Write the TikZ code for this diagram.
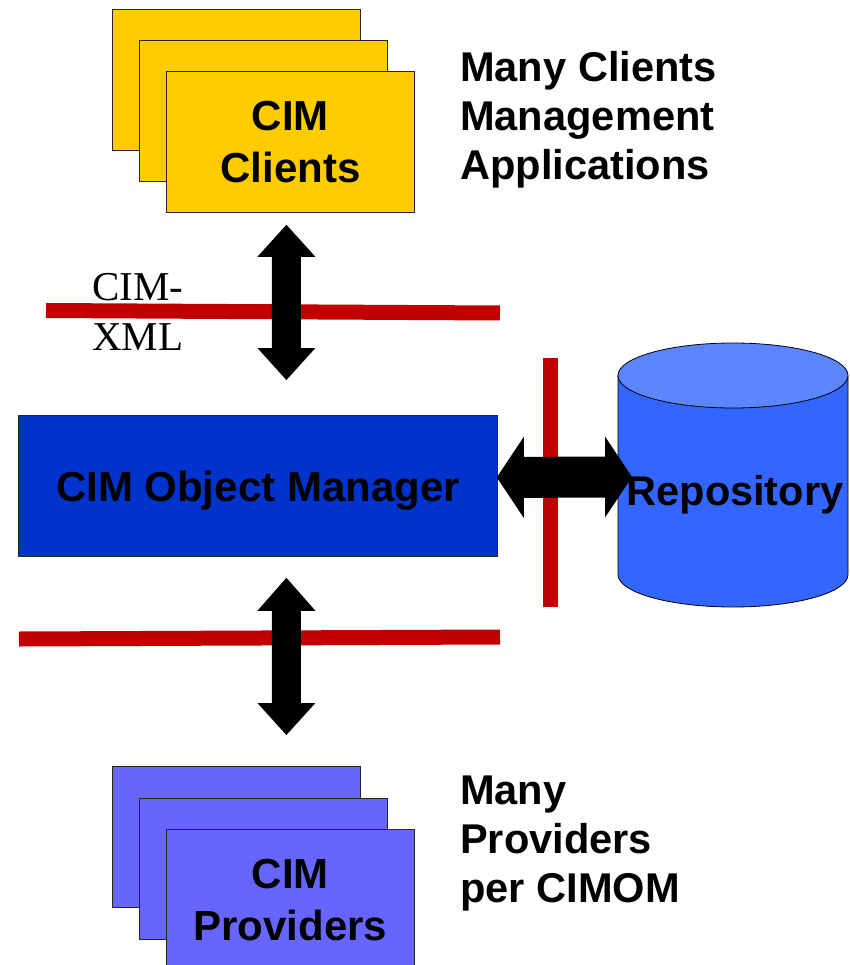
\documentclass[tikz,border=0pt]{standalone}
\usepackage{fontspec}
\setmainfont{Liberation Sans}
\newfontfamily\serifface{Liberation Serif}
\usetikzlibrary{calc}
\definecolor{clientyellow}{HTML}{FFCC00}
\definecolor{provblue}{HTML}{6666FF}
\definecolor{cimomblue}{HTML}{0033CC}
\definecolor{repobody}{HTML}{3366FF}
\definecolor{repotop}{HTML}{5B86FF}
\definecolor{fwred}{HTML}{C00000}
\begin{document}
\begin{tikzpicture}[x=1pt,y=-1pt,
  bigtext/.style={font=\bfseries\fontsize{42}{52}\selectfont},
  card/.style={draw=black!85, line width=0.8pt, anchor=north west,
    minimum width=248pt, minimum height=141pt, inner sep=0pt,
    align=center, text depth=-3pt, bigtext},
  firewall/.style={draw=fwred, line width=15pt},
  blockarrow/.style={fill=black},
  sidetext/.style={anchor=base west, inner sep=0pt, align=left,
    font=\bfseries\fontsize{41.6}{49}\selectfont}]
\useasboundingbox (0,0) rectangle (850,965);

% clients stack
\node[card, fill=clientyellow] (cl1) at (112,9) {};
\node[card, fill=clientyellow] (cl2) at (139,40) {};
\node[card, fill=clientyellow] (cl3) at (166,71) {CIM\\Clients};

% providers stack
\node[card, fill=provblue] (pr1) at (112,766) {};
\node[card, fill=provblue] (pr2) at (139,798) {};
\node[card, fill=provblue] (pr3) at (166,829) {CIM\\Providers};

% CIM object manager
\node[draw=black!85, line width=0.8pt, fill=cimomblue, anchor=north west,
  minimum width=479pt, minimum height=141pt, inner sep=0pt, text depth=0pt,
  bigtext] (cimom) at (18,415) {CIM Object Manager};

% side texts (base anchor = baseline of last line)
\node[sidetext] (clienttxt) at (460,180) {Many Clients\\Management\\Applications};
\node[sidetext] (provtxt) at (460,902) {Many\\Providers\\per CIMOM};
\node[anchor=base west, inner sep=0pt, align=left,
  font=\serifface\fontsize{41}{50}\selectfont] (xml) at (92,350) {CIM-\\XML};

% firewalls
\draw[firewall] (46,310.5) -- (500,313);
\draw[firewall] (19,639) -- (500,637);

% repository cylinder
\filldraw[fill=repobody, draw=black, line width=0.8pt]
  (618,375.5) -- (618,574.5)
  arc[start angle=180, end angle=0, x radius=115, y radius=32.5]
  -- (848,375.5);
\filldraw[fill=repotop, draw=black, line width=0.8pt]
  (733,375.5) ellipse[x radius=115, y radius=32.5];
\draw[firewall] (550.5,358) -- (550.5,607);

% connector end points
\coordinate (a1t) at ($(cl3.south)+(-4,12)$);
\coordinate (a1b) at ($(cimom.north)+(28.5,-35)$);
\coordinate (a2t) at ($(cimom.south)+(28.5,21)$);
\coordinate (a2b) at ($(pr3.north)+(-4,-94)$);
\coordinate (h1l) at ($(cimom.east)+(-1,-8.5)$);
\coordinate (h1r) at (632,477);

% double block arrows
\fill[blockarrow] (a1t) -- ++(29,32) -- ++(-14.5,0) -- ($(a1b)+(14.5,-32)$)
  -- ++(14.5,0) -- (a1b) -- ++(-29,-32) -- ++(14.5,0)
  -- ($(a1t)+(-14.5,32)$) -- ++(-14.5,0) -- cycle;
\fill[blockarrow] (a2t) -- ++(29,33) -- ++(-14.5,0) -- ($(a2b)+(14.5,-32)$)
  -- ++(14.5,0) -- (a2b) -- ++(-29,-32) -- ++(14.5,0)
  -- ($(a2t)+(-14.5,33)$) -- ++(-14.5,0) -- cycle;
\fill[blockarrow] (h1l) -- ++(27,-40.5) -- ++(0,20) -- ($(h1r)+(-27,-20.5)$)
  -- ++(0,-20) -- (h1r) -- ++(-27,40.5) -- ++(0,-20)
  -- ($(h1l)+(27,20.5)$) -- ++(0,20) -- cycle;

\node[anchor=base, inner sep=0pt, font=\bfseries\fontsize{41.5}{50}\selectfont] (repo) at (735,505) {Repository};
\end{tikzpicture}
\end{document}
